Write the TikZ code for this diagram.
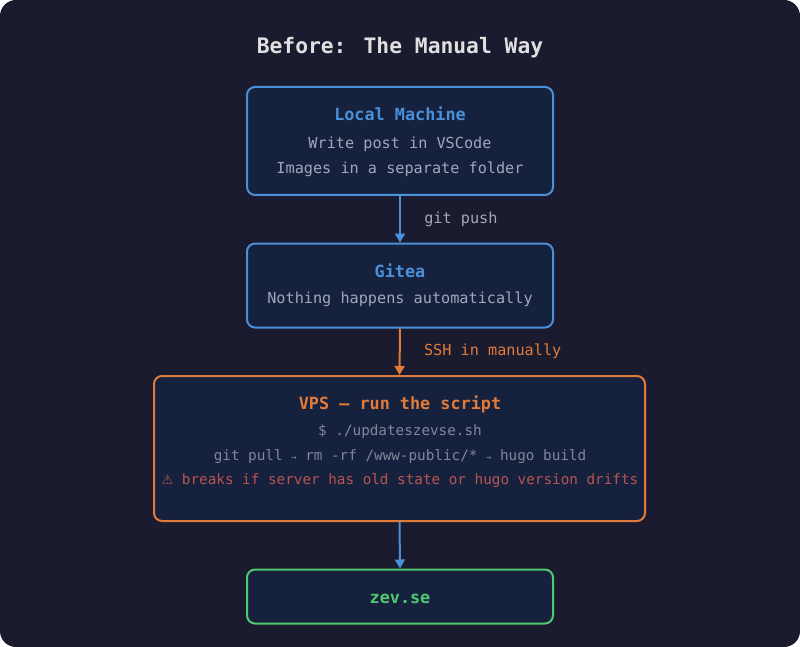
\documentclass[tikz,border=0pt]{standalone}
\usepackage{fontspec}
\setmainfont{DejaVu Sans Mono}
\newfontfamily\symf{DejaVu Sans}
\usetikzlibrary{arrows.meta}
\definecolor{bg}{HTML}{1A1B2E}
\definecolor{boxf}{HTML}{16213E}
\definecolor{cblue}{HTML}{4A90D9}
\definecolor{corange}{HTML}{E07B39}
\definecolor{cgreen}{HTML}{4EC96E}
\definecolor{cgray}{HTML}{A0A8B8}
\definecolor{cdim}{HTML}{7F8899}
\definecolor{cred}{HTML}{B85450}
\definecolor{ctitle}{HTML}{E0E0E0}
\begin{document}
\begin{tikzpicture}[x=1pt,y=-1pt,
  box/.style={draw=#1,line width=2pt,fill=boxf,rounded corners=8pt},
  hd/.style={font=\bfseries\fontsize{16.8}{18}\selectfont},
  tx/.style={font=\fontsize{15.2}{17}\selectfont,text=cgray},
  sx/.style={font=\fontsize{14.3}{16}\selectfont},
  arr/.style={line width=2pt,-{Triangle[length=9pt,width=10pt]}}]
\useasboundingbox (0,0) rectangle (800,647);
\fill[white] (0,0) rectangle (800,647);
\fill[bg,rounded corners=16pt] (0,0) rectangle (800,647);
\node[text=ctitle,font=\bfseries\fontsize{21.3}{23}\selectfont] (title) at (400,48) {Before: The Manual Way};
\node[box=cblue,minimum width=306pt,minimum height=108pt] (local) at (400,141) {};
\node[hd,text=cblue] (lh) at (400,114) {Local Machine};
\node[tx] (l1) at (400,144) {Write post in VSCode};
\node[tx] (l2) at (400,169) {Images in a separate folder};
\node[box=cblue,minimum width=306pt,minimum height=84pt] (gitea) at (400,285.5) {};
\node[hd,text=cblue] (gh) at (400,271) {Gitea};
\node[tx] (g1) at (400,299) {Nothing happens automatically};
\node[box=corange,minimum width=491pt,minimum height=145pt] (vps) at (399.5,448.5) {};
\node[hd,text=corange] (vh) at (400,404) {VPS — run the script};
\node[sx,text=cdim] (v1) at (400,432) {\$ ./updateszevse.sh};
\node[sx,text=cdim] (v2) at (400,457) {git pull {\fontsize{9}{9}\selectfont→} rm -rf /www-public/* {\fontsize{9}{9}\selectfont→} hugo build};
\node[sx,text=cred] (v3) at (400,481) {{\symf\fontsize{13}{14}\selectfont ⚠} breaks if server has old state or hugo version drifts};
\node[box=cgreen,minimum width=306pt,minimum height=54pt] (zev) at (400,596.5) {};
\node[hd,text=cgreen] (zh) at (400,599) {zev.se};
\draw[arr,cblue] (local.south) -- (gitea.north) node[midway,right=20pt,tx,text=cgray] (lb1) {git push};
\draw[arr,corange] (gitea.south) -- (vps.north) node[midway,right=20pt,tx,text=corange] (lb2) {SSH in manually};
\draw[arr,cblue] (vps.south) -- (zev.north);
\end{tikzpicture}
\end{document}
